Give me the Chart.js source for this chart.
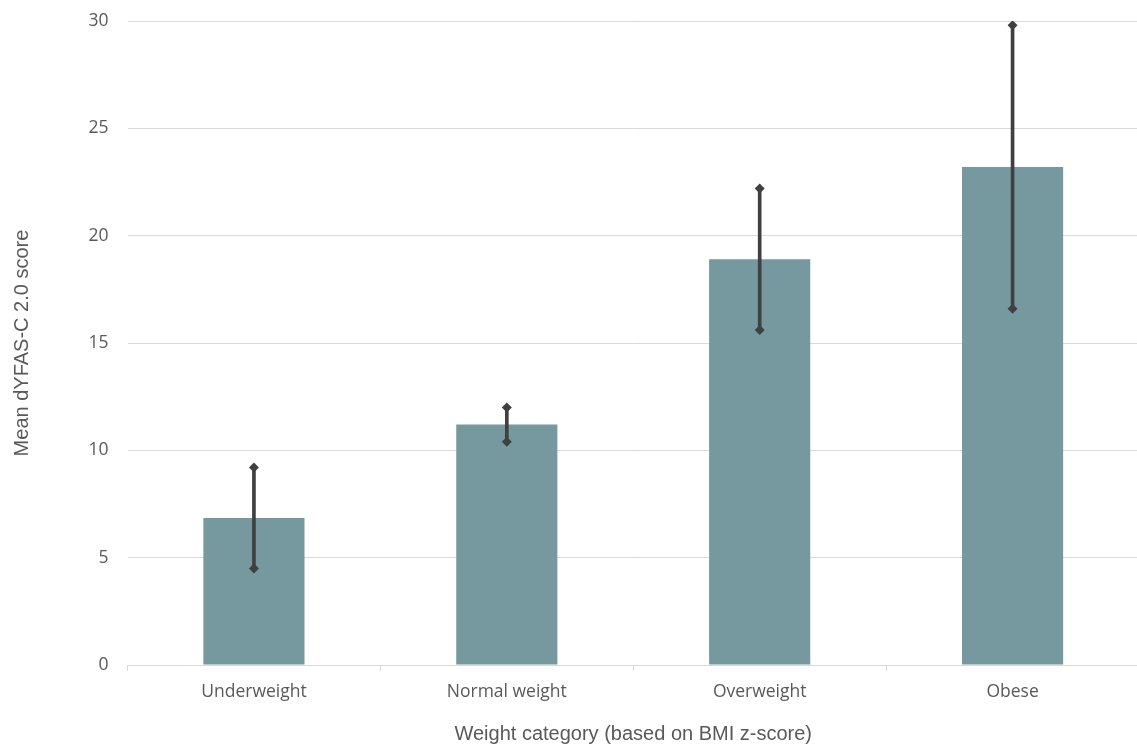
<!DOCTYPE html>
<html>
<head>
<meta charset="utf-8">
<script src="https://cdn.jsdelivr.net/npm/chart.js@4/dist/chart.umd.min.js"></script>
<style>
html,body{margin:0;padding:0;background:#fff;overflow:hidden;}
#wrap{width:1137px;height:746px;overflow:hidden;position:relative;}
#c{position:absolute;left:0;top:0;}
</style>
</head>
<body>
<div id="wrap"><canvas id="c" width="1144" height="746"></canvas></div>
<script>
const categories = ["Underweight", "Normal weight", "Overweight", "Obese"];
const meanScores = [6.85, 11.2, 18.9, 23.2];
const ciLower = [4.5, 10.4, 15.6, 16.6];
const ciUpper = [9.2, 12.0, 22.2, 29.8];
const yTicks = [0, 5, 10, 15, 20, 25, 30];

const errorRanges = categories.map((c, i) => [ciLower[i], ciUpper[i]]);
const grey = '#595959';

new Chart(document.getElementById('c'), {
  data: {
    labels: categories,
    datasets: [
      {
        type: 'bar',
        data: meanScores,
        backgroundColor: '#76989f',
        barPercentage: 0.4,
        categoryPercentage: 1,
        grouped: false,
        order: 3
      },
      {
        type: 'bar',
        data: errorRanges,
        backgroundColor: '#404040',
        barThickness: 3,
        grouped: false,
        order: 2
      },
      {
        type: 'line',
        data: ciUpper,
        showLine: false,
        pointStyle: 'rectRot',
        pointRadius: 5,
        pointBackgroundColor: '#404040',
        pointBorderColor: '#404040',
        pointBorderWidth: 0,
        order: 1
      },
      {
        type: 'line',
        data: ciLower,
        showLine: false,
        pointStyle: 'rectRot',
        pointRadius: 5,
        pointBackgroundColor: '#404040',
        pointBorderColor: '#404040',
        pointBorderWidth: 0,
        order: 1
      }
    ]
  },
  options: {
    responsive: false,
    animation: false,
    devicePixelRatio: 1,
    layout: { padding: { top: 21, right: 0, left: 10, bottom: 0 } },
    plugins: { legend: { display: false }, tooltip: { enabled: false } },
    scales: {
      x: {
        type: 'category',
        offset: true,
        grid: {
          offset: true,
          drawOnChartArea: false,
          drawTicks: true,
          tickLength: 6,
          color: '#d9d9d9'
        },
        border: { display: true, color: '#d9d9d9', width: 1 },
        ticks: {
          color: grey,
          font: { family: 'Open Sans', size: 17.5 },
          padding: 11,
          maxRotation: 0
        },
        title: {
          display: true,
          text: 'Weight category (based on BMI z-score)',
          color: grey,
          font: { family: 'Liberation Sans', size: 20 },
          padding: { top: 8, bottom: 0 }
        },
        afterFit: (s) => { s.height = 81; s.paddingLeft = 0; s.paddingRight = 0; }
      },
      y: {
        min: 0,
        max: 30,
        afterBuildTicks: (s) => { s.ticks = yTicks.map(v => ({ value: v })); },
        grid: { color: '#d9d9d9', drawTicks: false },
        border: { display: false },
        ticks: {
          color: grey,
          font: { family: 'Open Sans', size: 17.5 },
          padding: 19
        },
        title: {
          display: true,
          text: 'Mean dYFAS-C 2.0 score',
          color: grey,
          font: { family: 'Liberation Sans', size: 20 },
          padding: { top: 0, bottom: 0 }
        },
        afterFit: (s) => { s.width = 117.5; s.paddingTop = 0; s.paddingBottom = 0; }
      }
    }
  }
});
</script>
</body>
</html>
